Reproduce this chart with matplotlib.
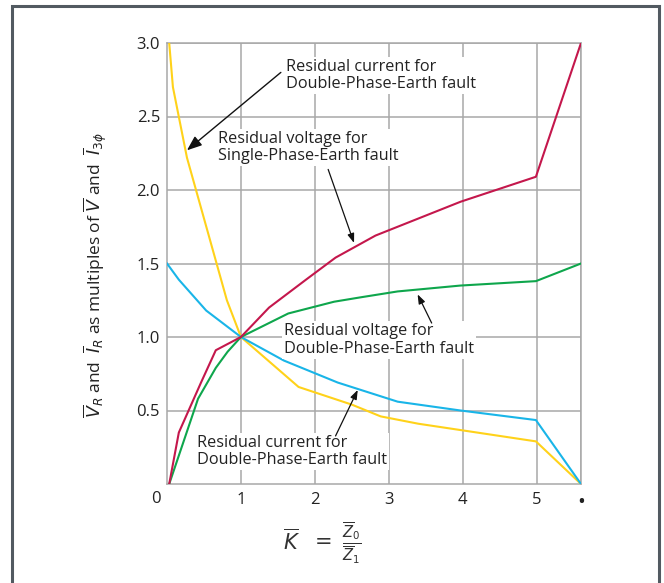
import matplotlib
matplotlib.use("Agg")
import matplotlib.pyplot as plt
from matplotlib.patches import Rectangle

plt.rcParams['font.family'] = ['Open Sans', 'DejaVu Sans']
plt.rcParams['mathtext.fontset'] = 'dejavusans'

# K = Z0/Z1, last point is infinity (drawn at the right edge)
INF = 5.6

# residual current, double-phase-earth (upper yellow curve)
k_i_dpe = [0.03, 0.08, 0.27, 0.81, 1.0, 1.78, 2.5, 2.89, 3.4, 4.99, INF]
i_dpe = [3.0, 2.7, 2.22, 1.25, 1.0, 0.66, 0.54, 0.46, 0.41, 0.29, 0.0]

# residual current (cyan)
k_i2 = [0.0, 0.16, 0.53, 1.0, 1.58, 2.31, 3.12, 3.97, 4.99, INF]
i2 = [1.5, 1.39, 1.18, 1.0, 0.84, 0.69, 0.56, 0.50, 0.435, 0.0]

# residual voltage, single-phase-earth (crimson)
k_v_spe = [0.03, 0.16, 0.46, 0.66, 1.0, 1.38, 1.88, 2.28, 2.82, 3.97, 4.99, INF]
v_spe = [0.0, 0.35, 0.69, 0.91, 1.0, 1.20, 1.39, 1.54, 1.69, 1.92, 2.09, 3.0]

# residual voltage, double-phase-earth (green)
k_v_dpe = [0.03, 0.42, 0.66, 0.82, 1.0, 1.64, 2.26, 2.62, 3.12, 3.97, 4.99, INF]
v_dpe = [0.0, 0.58, 0.79, 0.90, 1.0, 1.16, 1.24, 1.27, 1.31, 1.35, 1.38, 1.5]

xticks = [1, 2, 3, 4, 5, INF]
xlabels = ['1', '2', '3', '4', '5', '\u2022']
yticks = [0.5, 1.0, 1.5, 2.0, 2.5, 3.0]

fig = plt.figure(figsize=(6.64, 5.83), dpi=100)
ax = fig.add_axes([167/664, 1-484/583, (581-167)/664, (484-43)/583])

# outer frame
fig.patches.append(Rectangle((12/664, -0.1), (659-12)/664, 1.1-6/583,
                             transform=fig.transFigure, fill=False,
                             edgecolor='#525a61', linewidth=2.2))

gc = '#a8a8a8'
ax.set_xlim(0, INF)
ax.set_ylim(0, 3.0)
ax.set_xticks(xticks)
ax.set_xticklabels(xlabels)
ax.set_yticks(yticks)
ax.set_yticklabels(['0.5', '1.0', '1.5', '2.0', '2.5', '3.0'])
ax.tick_params(length=0, labelsize=12, colors='#222222')
ax.tick_params(axis='x', pad=6)
ax.tick_params(axis='y', pad=5)
ax.get_xticklabels()[-1].set_fontsize(15)
ax.grid(True, color=gc, linewidth=1.1)
for s in ax.spines.values():
    s.set_color(gc)
    s.set_linewidth(1.1)
ax.text(-0.15, -0.045, '0', ha='center', va='top', fontsize=12, color='#222222')

ax.plot(k_i_dpe, i_dpe, color='#ffd21a', lw=1.5, zorder=3)
ax.plot(k_i2, i2, color='#19b5e8', lw=1.5, zorder=3)
ax.plot(k_v_dpe, v_dpe, color='#0ea64c', lw=1.5, zorder=3)
ax.plot(k_v_spe, v_spe, color='#c4174c', lw=1.5, zorder=4)

box = dict(facecolor='white', edgecolor='none', pad=1.5)
tk = dict(fontsize=11.7, color='#222222', ha='left', va='center', linespacing=1.1, bbox=box, zorder=5)
ax.text(1.61, 2.78, 'Residual current for\nDouble-Phase-Earth fault', **tk)
ax.text(0.69, 2.29, 'Residual voltage for\nSingle-Phase-Earth fault', **tk)
ax.text(1.58, 0.98, 'Residual voltage for\nDouble-Phase-Earth fault', **tk)
ax.text(0.405, 0.22, 'Residual current for\nDouble-Phase-Earth fault', **tk)

ax.annotate('', xy=(0.27, 2.27), xytext=(1.54, 2.80),
            arrowprops=dict(arrowstyle='-|>,head_length=0.9,head_width=0.35', color='#111111', lw=1.0,
                            shrinkA=0, shrinkB=0), zorder=6)
small = dict(arrowstyle='-|>,head_length=0.55,head_width=0.2', color='#111111', lw=0.9, shrinkA=0, shrinkB=0)
ax.annotate('', xy=(2.53, 1.64), xytext=(2.18, 2.14), arrowprops=small, zorder=6)
ax.annotate('', xy=(3.39, 1.29), xytext=(3.58, 1.095), arrowprops=small, zorder=6)
ax.annotate('', xy=(2.58, 0.64), xytext=(2.28, 0.327), arrowprops=small, zorder=6)

fig.text(95/664, 1-275/583,
         r'$\overline{V}_R$ and  $\overline{I}_R$ as multiples of $\overline{V}$ and  $\overline{I}_{3\phi}$',
         rotation=90, ha='center', va='center', fontsize=12.5, color='#222222')
fig.text(322/664, 1-543/583,
         r'$\overline{K}\ \ =\ \frac{\overline{Z}_0}{\overline{Z}_1}$',
         ha='center', va='center', fontsize=15, color='#333333')

fig.savefig('out.png', dpi=100)
